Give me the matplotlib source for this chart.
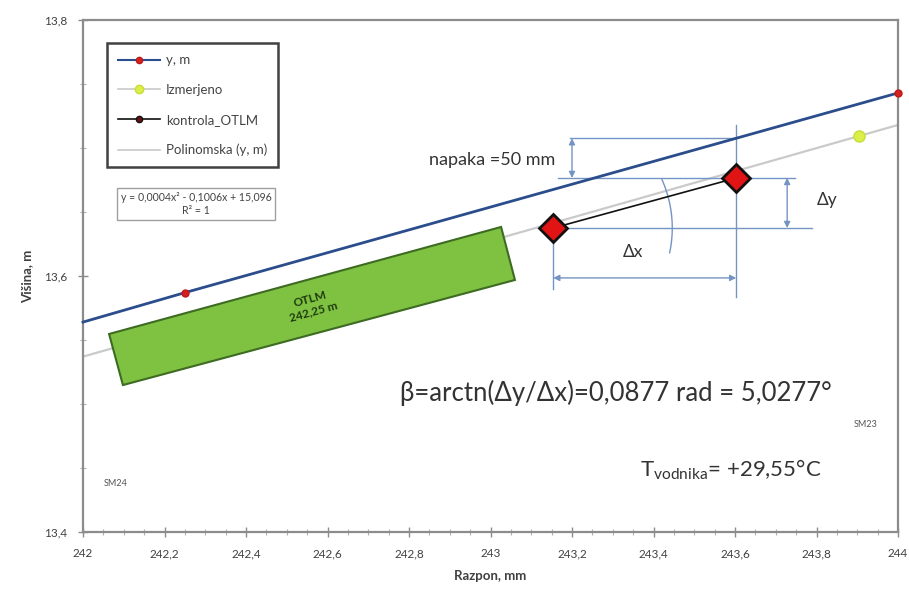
import numpy as np
import matplotlib
matplotlib.use('Agg')
import matplotlib.pyplot as plt
from matplotlib.lines import Line2D
from matplotlib.patches import Polygon, FancyArrowPatch
from matplotlib.ticker import MultipleLocator, FuncFormatter

plt.rcParams['font.family'] = ['Lato', 'DejaVu Sans']

# series "y, m"
y_x = [242.0, 242.25, 244.0]
y_vals = [13.564, 13.587, 13.743]

# measured point
izm_x = [243.904]
izm_y = [13.709]

# control points (OTLM)
ctrl_x = [243.154, 243.603]
ctrl_y = [13.6375, 13.6766]

# polynomial trend of y, m
trend_x = [242.0, 244.0]
trend_y = [13.537, 13.718]

# conductor body drawn as a tilted bar
otlm_x = [242.064, 243.026, 243.060, 242.098]
otlm_y = [13.5547, 13.6383, 13.5969, 13.5148]

fig = plt.figure(figsize=(9.09, 5.92), dpi=100)
ax = fig.add_axes([83 / 909, 1 - 532 / 592, 815 / 909, 512 / 592])
ax.set_xlim(242, 244)
ax.set_ylim(13.4, 13.8)

comma = FuncFormatter(lambda v, p: ('%g' % round(v, 3)).replace('.', ','))
ax.xaxis.set_major_locator(MultipleLocator(0.2))
ax.xaxis.set_minor_locator(MultipleLocator(0.05))
ax.yaxis.set_major_locator(MultipleLocator(0.2))
ax.yaxis.set_minor_locator(MultipleLocator(0.05))
ax.xaxis.set_major_formatter(comma)
ax.yaxis.set_major_formatter(comma)
ax.tick_params(which='major', direction='inout', length=7, width=1, color='#8c8c8c',
               labelsize=8.5, labelcolor='#404040', pad=8)
ax.tick_params(which='minor', direction='inout', length=4, width=0.8, color='#b0b0b0')
for s in ax.spines.values():
    s.set_color('#8c8c8c')
    s.set_linewidth(1.6)

ax.set_xlabel('Razpon, mm', fontsize=9.5, fontweight='bold', color='#404040', labelpad=8)
ax.set_ylabel('Višina, m', fontsize=9.5, fontweight='bold', color='#404040', labelpad=8)

# trend and series
ax.plot(trend_x, trend_y, color='#cacaca', lw=1.6, zorder=2)
ax.plot(y_x, y_vals, color='#2b4d8c', lw=2, marker='o', ms=5, markevery=[1, 2],
        mfc='#d42020', mec='#c01818', zorder=4, clip_on=False)
ax.plot(izm_x, izm_y, ls='none', marker='o', ms=8, mfc='#dcef48', mec='#c8dc3a', zorder=4)

poly = Polygon(list(zip(otlm_x, otlm_y)), closed=True, fc='#7fc242', ec='#3d6b22', lw=1.5, zorder=3)
ax.add_patch(poly)
ax.text(np.mean(otlm_x), np.mean(otlm_y) + 0.001, 'OTLM\n242,25 m', rotation=15.5,
        ha='center', va='center', fontsize=8.5, fontweight='bold', color='#1e3a0e',
        linespacing=1.3, zorder=5)

ax.plot(ctrl_x, ctrl_y, color='#111111', lw=1.2, zorder=5)
ax.plot(ctrl_x, ctrl_y, ls='none', marker='D', ms=14, mfc='#e01414', mec='#111111',
        mew=2, zorder=6)

# dimension lines
dim = '#7494c4'
x1, x2 = ctrl_x
y1, y2 = ctrl_y
y_top = np.interp(x2, y_x, y_vals)


def seg(xs, ys):
    ax.plot(xs, ys, color=dim, lw=1, zorder=3)


def arrow(p0, p1):
    ax.add_patch(FancyArrowPatch(p0, p1, arrowstyle='<|-|>', mutation_scale=9,
                                 color=dim, lw=1, shrinkA=0, shrinkB=0, zorder=3))


seg([243.195, x2], [y_top, y_top])
seg([243.166, 243.747], [y2, y2])
seg([x1, 243.789], [y1, y1])
seg([x2, x2], [13.718, 13.5836])
seg([x1, x1], [y1, 13.590])
arrow((243.2, y_top), (243.2, y2))
arrow((243.728, y1), (243.728, y2))
arrow((x1, 13.5985), (x2, 13.5985))

# angle arc around the left control point, drawn in pixel-equal units
sx = 2 / 815
sy = 0.4 / 512
t = np.radians(np.linspace(-12, 24, 40))
ax.plot(x1 + 119 * np.cos(t) * sx, y1 + 119 * np.sin(t) * sy, color=dim, lw=1, zorder=3)

ax.text(243.16, 13.6906, 'napaka =50 mm', ha='right', va='center', fontsize=13, color='#333333')
ax.text(243.80, 13.659, 'Δy', ha='left', va='center', fontsize=12.5, color='#333333')
ax.text(243.35, 13.619, 'Δx', ha='center', va='center', fontsize=12.5, color='#333333')

ax.text(242.778, 13.5086, 'β=arctn(Δy/Δx)=0,0877 rad = 5,0277°', ha='left', va='center',
        fontsize=18.5, color='#333333')
ax.text(243.367, 13.4484, r'T$_{\mathregular{vodnika}}$= +29,55°C', ha='left', va='center',
        fontsize=16, color='#333333')
ax.text(243.921, 13.4836, 'SM23', ha='center', va='center', fontsize=6.5, color='#555555')
ax.text(242.079, 13.438, 'SM24', ha='center', va='center', fontsize=6.5, color='#555555')

# equation of the trend
ax.text(242.277, 13.6562, 'y = 0,0004x² - 0,1006x + 15,096\nR² = 1', ha='center', va='center',
        fontsize=7.6, color='#444444', linespacing=1.3,
        bbox=dict(boxstyle='square,pad=0.35', fc='white', ec='#a0a0a0', lw=1))

handles = [
    Line2D([], [], color='#2b4d8c', lw=1.5, marker='o', ms=4.5, mfc='#d42020', mec='#c01818'),
    Line2D([], [], color='#cacaca', lw=1.2, marker='o', ms=6, mfc='#dcef48', mec='#c8dc3a'),
    Line2D([], [], color='#111111', lw=1.2, marker='o', ms=4.5, mfc='#6a1010', mec='#111111'),
    Line2D([], [], color='#cacaca', lw=1.2),
]
labels = ['y, m', 'Izmerjeno', 'kontrola_OTLM', 'Polinomska (y, m)']
leg = fig.legend(handles, labels, loc='upper left', bbox_to_anchor=(107 / 909, 1 - 43 / 592),
                 borderaxespad=0, fontsize=9.5, frameon=True, fancybox=False,
                 handlelength=3.2, labelspacing=1.35, borderpad=0.85, handletextpad=0.4)
leg.get_frame().set_edgecolor('#111111')
leg.get_frame().set_linewidth(1.8)
for t_ in leg.get_texts():
    t_.set_color('#444444')

fig.savefig('out.png', dpi=100)
